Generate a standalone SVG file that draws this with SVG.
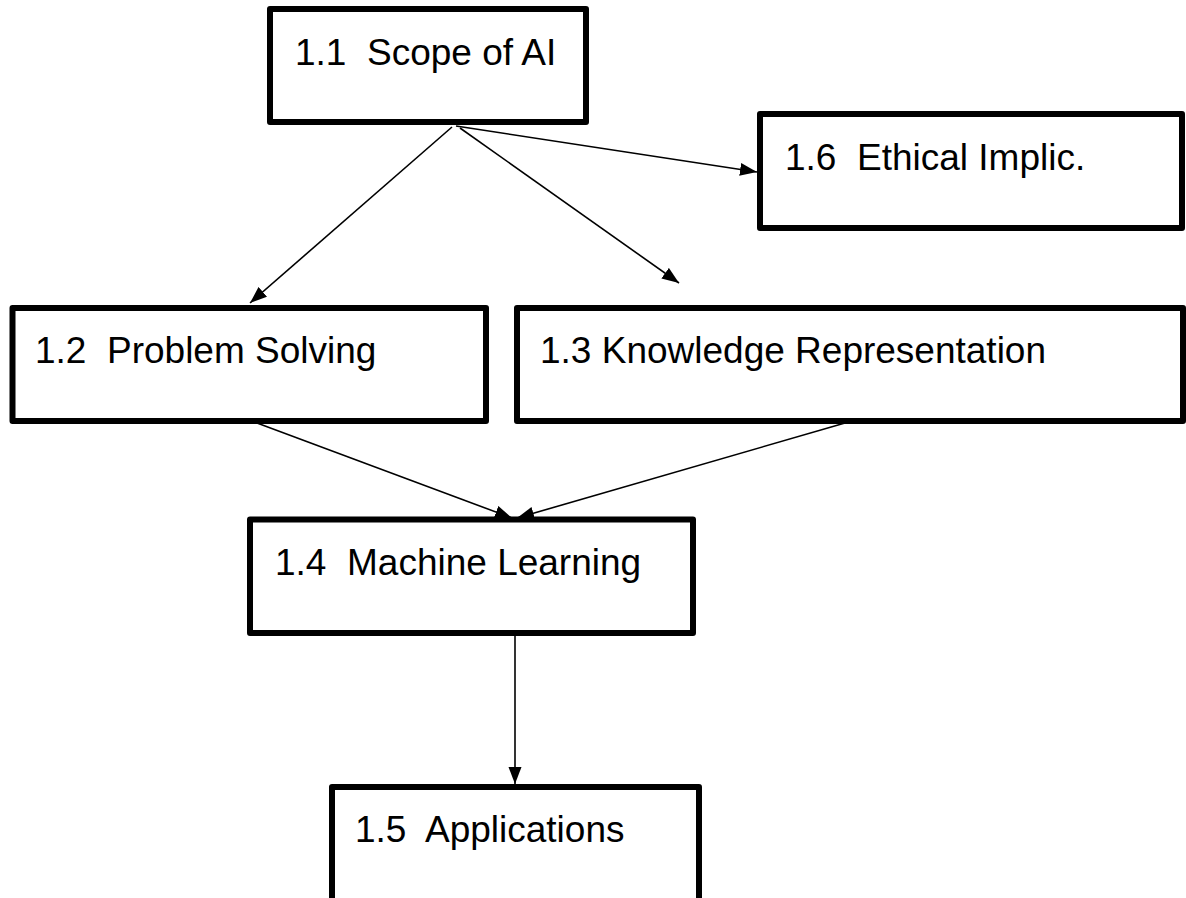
<svg xmlns="http://www.w3.org/2000/svg" width="1186" height="898" viewBox="0 0 1186 898">
<style>
.box{fill:#fff;stroke:#000;stroke-width:6;stroke-linejoin:round}
.lbl{font-family:"Liberation Sans",Arial,sans-serif;font-size:37px;fill:#000;white-space:pre}
.conn{stroke:#000;stroke-width:1.6;fill:none;marker-end:url(#ah)}
</style>
<defs>
<marker id="ah" markerUnits="userSpaceOnUse" markerWidth="18" markerHeight="14" refX="17" refY="6.5" orient="auto">
<path d="M0,0 L17,6.5 L0,13 z" fill="#000"/>
</marker>
</defs>
<rect width="1186" height="898" fill="#fff"/>
<g id="connectors">
<line class="conn" x1="452" y1="127" x2="250" y2="303"/>
<line class="conn" x1="460" y1="128" x2="679" y2="283"/>
<line class="conn" x1="456" y1="126" x2="757" y2="172"/>
<line class="conn" x1="257" y1="423" x2="512" y2="518"/>
<line class="conn" x1="845" y1="423" x2="517" y2="518"/>
<line class="conn" x1="515" y1="636" x2="515" y2="784"/>
</g>
<g id="n11"><rect class="box" x="270" y="9" width="316" height="113"/><text class="lbl" x="295" y="65" xml:space="preserve">1.1  Scope of AI</text></g>
<g id="n16"><rect class="box" x="760" y="114" width="422" height="114"/><text class="lbl" x="785" y="170" xml:space="preserve">1.6  Ethical Implic.</text></g>
<g id="n12"><rect class="box" x="12.5" y="308" width="473.5" height="113"/><text class="lbl" x="35" y="363" xml:space="preserve">1.2  Problem Solving</text></g>
<g id="n13"><rect class="box" x="517" y="308" width="666" height="113"/><text class="lbl" x="540" y="363">1.3 Knowledge Representation</text></g>
<g id="n14"><rect class="box" x="250" y="519.5" width="443" height="113.5"/><text class="lbl" x="275" y="575" xml:space="preserve">1.4  Machine Learning</text></g>
<g id="n15"><rect class="box" x="332" y="787" width="367" height="120"/><text class="lbl" x="355" y="842" xml:space="preserve">1.5  Applications</text></g>
</svg>
